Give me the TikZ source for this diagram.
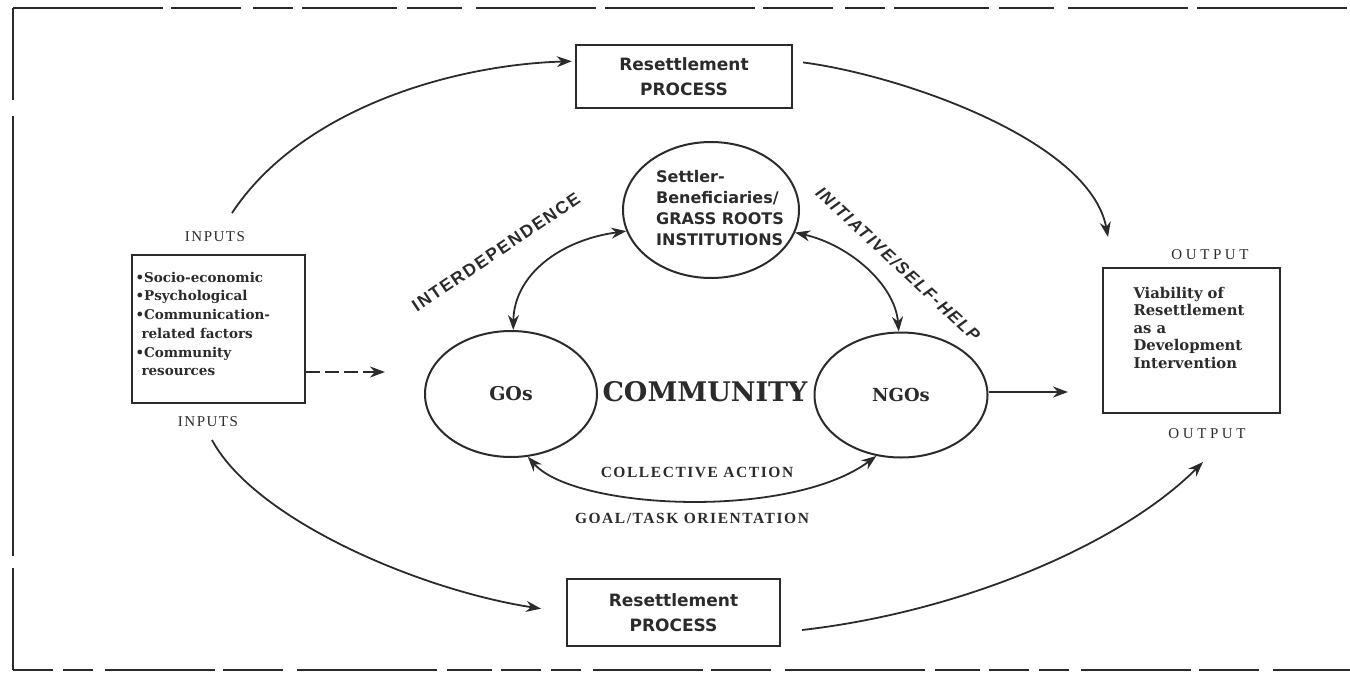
\documentclass[tikz,border=0pt]{standalone}
\usepackage{fontspec}
\setmainfont{Liberation Serif}
\newfontfamily\dvsans{DejaVu Sans}
\newfontfamily\dvserif{DejaVu Serif}
\newfontfamily\lsans{Liberation Sans}
\newfontfamily\lsanssp{Liberation Sans}[LetterSpace=10]
\newfontfamily\spaced{Liberation Serif}[LetterSpace=10]
\newfontfamily\wspaced{Liberation Serif}[LetterSpace=24]
\usetikzlibrary{shapes.geometric,arrows.meta}
\definecolor{inkc}{HTML}{2B2B2B}
\begin{document}
\begin{tikzpicture}[x=1pt,y=-1pt,
  tip/.style={-{Stealth[length=15pt,width=11pt]}},
  conn/.style={draw=inkc, line width=1.8pt, tip},
  both/.style={draw=inkc, line width=1.8pt, {Stealth[length=15pt,width=11pt]}-{Stealth[length=15pt,width=11pt]}},
  rbox/.style={draw=inkc, line width=2.4pt, rectangle, inner sep=0pt},
  oval/.style={draw=inkc, line width=2pt, ellipse, inner sep=0pt},
  frame/.style={draw=inkc, line width=2.5pt},
  lab/.style={text=inkc, inner sep=0pt, font=\spaced\fontsize{15}{17}\selectfont},
  blab/.style={text=inkc, inner sep=0pt, font=\spaced\bfseries\fontsize{15.5}{17}\selectfont},
  boxtxt/.style={text=inkc, align=center, font=\dvsans\bfseries\fontsize{17}{25}\selectfont},
  ovtxt/.style={text=inkc, font=\dvserif\bfseries\fontsize{19}{22}\selectfont},
  slanted/.style={text=inkc, inner sep=0pt, font=\lsanssp\bfseries\fontsize{17.5}{20}\selectfont}
]
\useasboundingbox (0,0) rectangle (1350,680);
% frame
\draw[frame, dash pattern=on 150pt off 8pt on 70pt off 12pt on 40pt off 9pt on 95pt off 10pt on 55pt off 14pt on 120pt off 9pt]
  (13,8) -- (1350,8);
\draw[frame, dash pattern=on 92pt off 16pt on 440pt off 12pt on 200pt off 0pt] (13,8) -- (13,670);
\draw[frame, dash pattern=on 40pt off 10pt on 30pt off 12pt on 110pt off 8pt on 60pt off 14pt on 140pt off 10pt on 45pt off 9pt]
  (13,670) -- (1350,670);

% boxes
\node[rbox, boxtxt, minimum width=216pt, minimum height=63pt] (tp) at (684,76.5) {Resettlement\\PROCESS};
\node[rbox, boxtxt, minimum width=213pt, minimum height=67pt] (bp) at (673.5,612.5) {Resettlement\\PROCESS};
\node[rbox, text=inkc, minimum width=173pt, minimum height=148pt] (in) at (218.5,329)
  {\parbox[c][114pt][t]{166pt}{\raggedright\dvserif\bfseries\fontsize{13.5}{18.7}\selectfont
  •Socio-economic\\•Psychological\\•Communication-\\\hspace{6pt}related factors\\•Community\\\hspace{6pt}resources}};
\node[rbox, text=inkc, minimum width=177pt, minimum height=145pt] (out) at (1191.5,340.5)
  {\parbox[c][107pt][t]{116pt}{\raggedright\dvserif\bfseries\fontsize{14.8}{17.5}\selectfont
  Viability of\\Resettlement\\as a\\Development\\Intervention}};

% ellipses
\node[oval, text=inkc, minimum width=176pt, minimum height=136pt] (set) at (711,210)
  {\makebox[110pt]{\hspace{18pt}\dvsans\bfseries\fontsize{16}{21}\selectfont\begin{tabular}{@{}l@{}}Settler-\\Beneficiaries/\\GRASS ROOTS\\INSTITUTIONS\end{tabular}}};
\node[oval, ovtxt, minimum width=172pt, minimum height=126pt] (gos) at (511,394) {GOs};
\node[oval, ovtxt, font=\dvserif\bfseries\fontsize{18}{22}\selectfont, minimum width=173pt, minimum height=125pt] (ngos) at (901,395) {NGOs};
\node[text=inkc, inner sep=0pt, font=\dvserif\bfseries\fontsize{27}{30}\selectfont] (com) at (705,392) {COMMUNITY};

% labels
\node[lab] (inA) at (215,237) {INPUTS};
\node[lab] (inB) at (208,422) {INPUTS};
\node[lab, font=\wspaced\fontsize{15}{17}\selectfont] (outA) at (1210,255) {OUTPUT};
\node[lab, font=\wspaced\fontsize{15}{17}\selectfont] (outB) at (1207,434) {OUTPUT};
\node[blab] (ca) at (697,472) {COLLECTIVE ACTION};
\node[blab] (gt) at (692,518) {GOAL/TASK ORIENTATION};
\node[slanted, rotate=34] (idp) at (496,252) {INTERDEPENDENCE};
\node[slanted, rotate=-43, font=\lsanssp\bfseries\itshape\fontsize{17}{20}\selectfont] (ini) at (898,264) {INITIATIVE/SELF-HELP};

% free ends
\coordinate (a1) at (232,213);
\coordinate (a2) at (1108,237);
\coordinate (b1) at (212,440);
\coordinate (b3) at (802,630);
\coordinate (b4) at (1203,462);
\coordinate (itip) at (385,372);
\coordinate (otip) at (1068,392);

% outer arcs
\draw[conn, shorten >=3pt] (a1) .. controls (300,110) and (450,65) .. (tp.172);
\draw[conn, shorten <=10pt] (tp.8) .. controls (900,75) and (1090,140) .. (a2);
\draw[conn, shorten >=25pt] (b1) .. controls (255,520) and (420,590) .. (bp.west);
\draw[conn] (b3) .. controls (960,612) and (1120,545) .. (b4);

% straight arrows
\draw[conn, dash pattern=on 14pt off 5pt] (in.east |- itip) -- (itip);
\draw[conn] (ngos.east |- otip) -- (otip);

% inner arcs
\draw[both] (gos.88) .. controls (514,275) and (560,240) .. (set.194);
\draw[both] (set.-15) .. controls (850,245) and (895,285) .. (ngos.92);
\draw[both] (gos.-75) .. controls (575,510) and (790,520) .. (ngos.-112);
\end{tikzpicture}
\end{document}
